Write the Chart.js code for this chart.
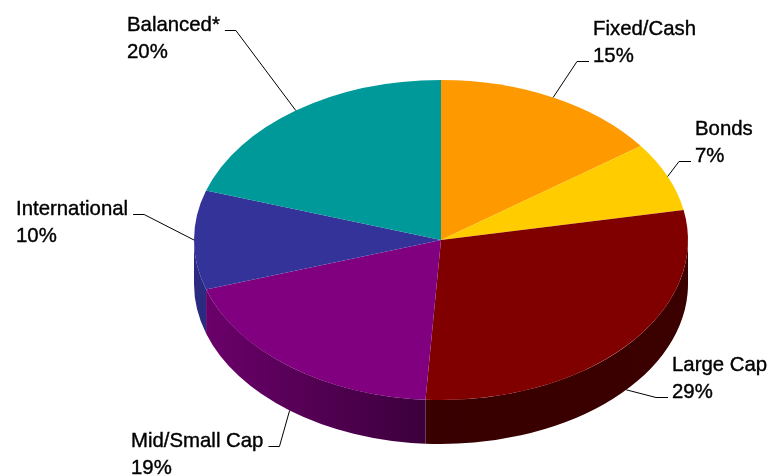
<!DOCTYPE html>
<html>
<head>
<meta charset="utf-8">
<script src="https://cdn.jsdelivr.net/npm/chart.js@4/dist/chart.umd.min.js"></script>
<style>
  body{margin:0;background:#fff;}
  canvas{display:block;}
</style>
</head>
<body>
<canvas id="pastel" width="768" height="476"></canvas>
<script>
// Datos
const categorias=["Fixed/Cash","Bonds","Large Cap","Mid/Small Cap","International","Balanced*"];
const porcentajes=[15,7,29,19,10,20];

// Estilo
const colores=["#FF9900","#FFCC00","#800000","#800080","#333399","#009999"];
const INCLINACION=160/247;   // alto/ancho de la elipse
const PROFUNDIDAD=44;        // grosor del pastel
const FUENTE="21px 'Liberation Sans', Arial, sans-serif";
const ESTRECHO=0.97;         // letra un poco condensada
const INTERLINEA=27;

// Donde va cada etiqueta (x del texto, primera linea base, linea del conector, lado)
const posEtiquetas=[
  {x:593,y:35,fila:1,lado:"der"},
  {x:695,y:135,fila:1,lado:"der"},
  {x:672,y:371,fila:1,lado:"der"},
  {x:131,y:447,fila:0,lado:"izq"},
  {x:16,y:215,fila:0,lado:"izq"},
  {x:127,y:31,fila:0,lado:"izq"}
];

function oscurecer(hex,f){
  const n=parseInt(hex.slice(1),16);
  const r=Math.round(((n>>16)&255)*f),g=Math.round(((n>>8)&255)*f),b=Math.round((n&255)*f);
  return `rgb(${r},${g},${b})`;
}

function texto(ctx,t,x,y){
  ctx.save();
  ctx.translate(x,y);
  ctx.scale(ESTRECHO,1);
  ctx.fillText(t,0,0);
  ctx.lineWidth=0.4;
  ctx.strokeText(t,0,0);
  ctx.restore();
}

// Pinta el canto del pastel y aplasta la cara de arriba
const pastel3D={
  id:"pastel3D",
  beforeDatasetsDraw(chart){
    const ctx=chart.ctx;
    const arcos=chart.getDatasetMeta(0).data;
    const {x:cx,y:cy,outerRadius:r}=arcos[0];
    const ry=r*INCLINACION;
    arcos.forEach((arco,i)=>{
      const a=Math.max(arco.startAngle,0);
      const b=Math.min(arco.endAngle,Math.PI);
      if(a>=b) return;
      const grad=ctx.createLinearGradient(cx-r,0,cx+r,0);
      grad.addColorStop(0,oscurecer(colores[i],0.85));
      grad.addColorStop(0.5,oscurecer(colores[i],0.44));
      grad.addColorStop(1,oscurecer(colores[i],0.46));
      ctx.beginPath();
      ctx.ellipse(cx,cy,r,ry,0,a,b,false);
      ctx.ellipse(cx,cy+PROFUNDIDAD,r,ry,0,b,a,true);
      ctx.closePath();
      ctx.fillStyle=grad;
      ctx.fill();
    });
    ctx.save();
    ctx.translate(cx,cy);
    ctx.scale(1,INCLINACION);
    ctx.translate(-cx,-cy);
  },
  afterDatasetsDraw(chart){
    const ctx=chart.ctx;
    ctx.restore();
    const arcos=chart.getDatasetMeta(0).data;
    const {x:cx,y:cy,outerRadius:r}=arcos[0];
    const ry=r*INCLINACION;
    ctx.save();
    ctx.font=FUENTE;
    ctx.fillStyle="#000";
    ctx.strokeStyle="#000";
    ctx.textBaseline="alphabetic";
    arcos.forEach((arco,i)=>{
      const p=posEtiquetas[i];
      const lineas=[categorias[i],porcentajes[i]+"%"];
      lineas.forEach((t,k)=>texto(ctx,t,p.x,p.y+k*INTERLINEA));
      // punto del borde donde llega el conector
      const m=(arco.startAngle+arco.endAngle)/2;
      const abajo=Math.sin(m)>0.3?PROFUNDIDAD:0;
      const ax=cx+r*Math.cos(m),ay=cy+abajo+ry*Math.sin(m);
      const yl=p.y+p.fila*INTERLINEA-0.5;
      let x1,x2;
      if(p.lado==="izq"){
        x1=p.x+ctx.measureText(lineas[p.fila]).width*ESTRECHO+5;
        x2=x1+11;
      }else{
        x1=p.x-4;
        x2=x1-12;
      }
      ctx.lineWidth=1;
      ctx.beginPath();
      ctx.moveTo(x1,yl);
      ctx.lineTo(x2,yl);
      ctx.lineTo(ax,ay);
      ctx.stroke();
    });
    ctx.restore();
  }
};

new Chart(document.getElementById("pastel"),{
  type:"pie",
  data:{
    labels:categorias,
    datasets:[{
      data:porcentajes,
      backgroundColor:colores,
      borderWidth:0,
      radius:247,
      clip:false
    }]
  },
  options:{
    responsive:false,
    animation:false,
    events:[],
    layout:{padding:{left:114,top:4}},
    plugins:{legend:{display:false},tooltip:{enabled:false}}
  },
  plugins:[pastel3D]
});
</script>
</body>
</html>
